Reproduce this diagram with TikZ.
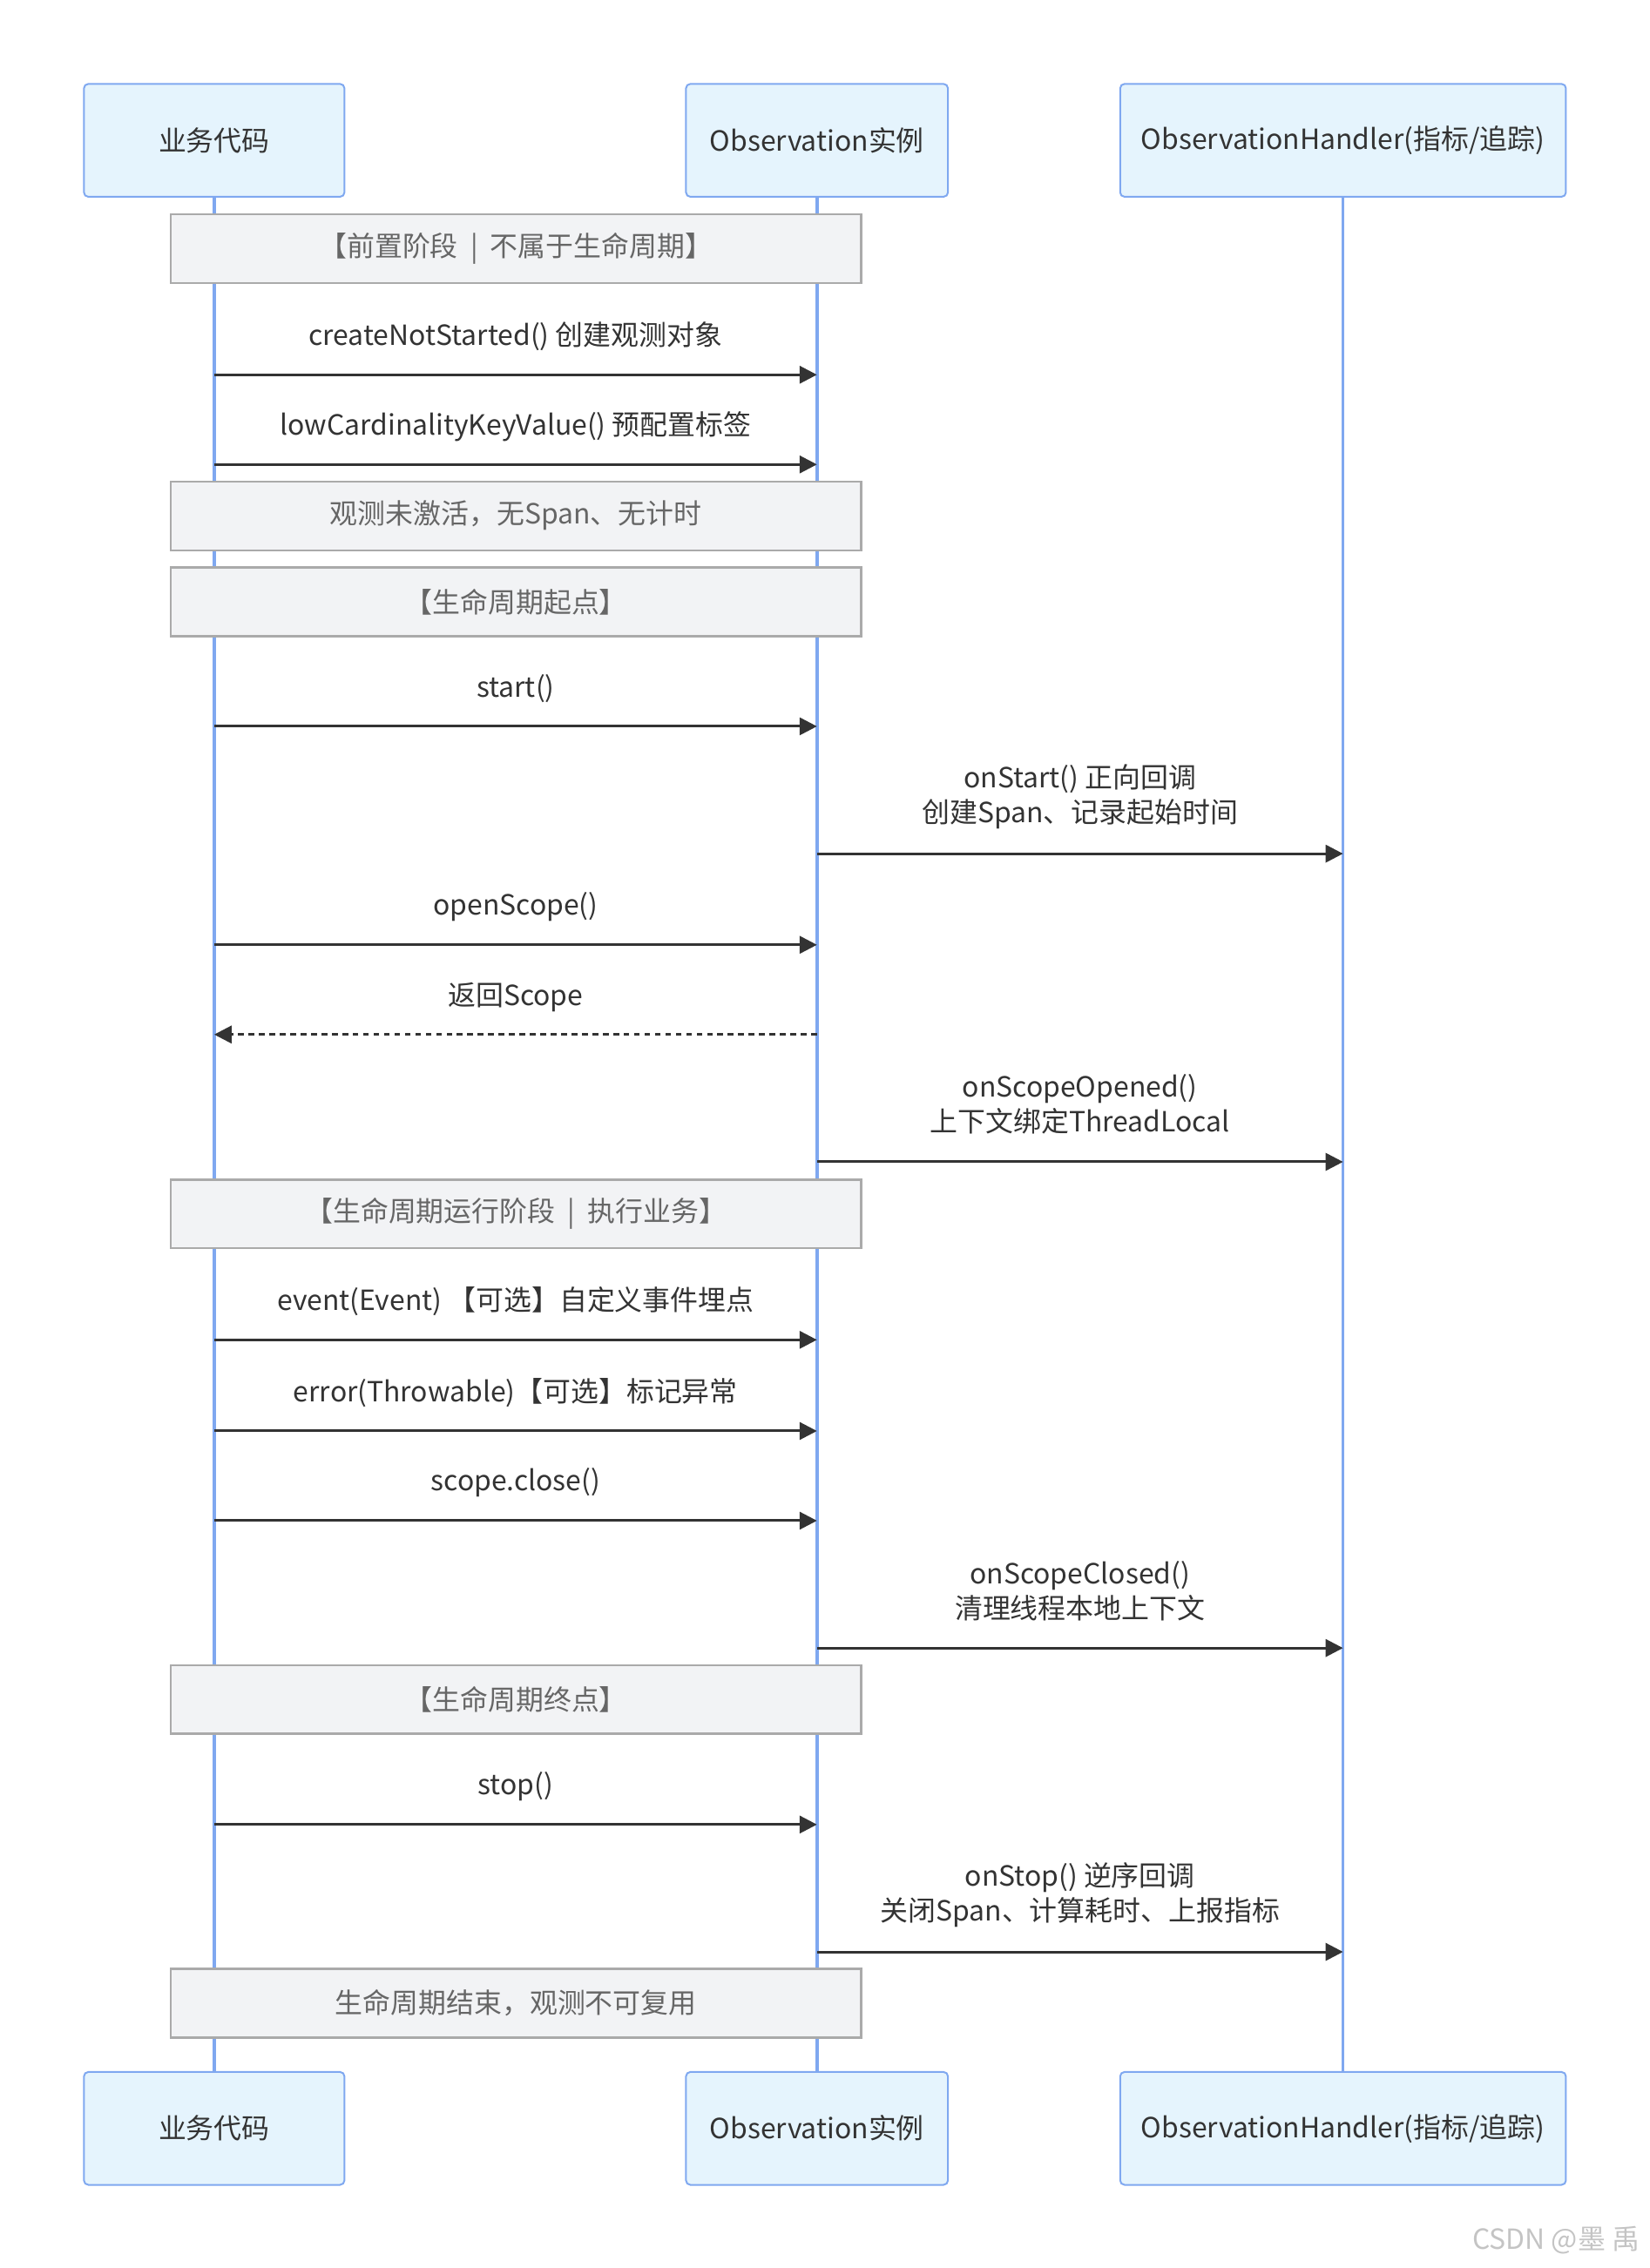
\documentclass[tikz,border=0pt]{standalone}
\usepackage{fontspec}
\setmainfont{Noto Sans CJK SC}
\usetikzlibrary{arrows.meta}
\definecolor{actorfill}{HTML}{E5F4FD}
\definecolor{actorline}{HTML}{7FA8F0}
\definecolor{notefill}{HTML}{F2F3F5}
\definecolor{notedraw}{HTML}{AAAAAA}
\definecolor{notetext}{HTML}{666666}
\definecolor{msgtext}{HTML}{333333}
\definecolor{marktext}{HTML}{C4C4C4}

\begin{document}
\begin{tikzpicture}[
        x=0.5pt, y=-0.5pt,
        every node/.style={font=\fontsize{9.6}{12}\selectfont},
        actor/.style={rectangle, draw=actorline, fill=actorfill, line width=0.6pt, rounded corners=1.5pt, minimum width=90pt, minimum height=39pt, text=msgtext},
        note/.style={rectangle, draw=notedraw, fill=notefill, line width=0.7pt, minimum width=238.5pt, minimum height=23.75pt, text=notetext},
        life/.style={draw=actorline, line width=1.1pt},
        msg/.style={-{Triangle[length=6pt, width=6pt]}, draw=msgtext, line width=0.9pt},
        reply/.style={msg, dash pattern=on 2pt off 1.6pt},
        lbl/.style={midway, yshift=#1, text=msgtext, align=center},
        lbl/.default=13.2pt
    ]
        \useasboundingbox (0,0) rectangle (1140,1567.5);

        % Actors
        \node[actor] (code) at (148,97) {业务代码};
        \node[actor, minimum width=90.5pt] (obs) at (564.5,97) {Observation实例};
        \node[actor, minimum width=154pt] (hnd) at (928,97) {ObservationHandler(指标/追踪)};
        \node[actor] (code2) at (148,1471) {业务代码};
        \node[actor, minimum width=90.5pt] (obs2) at (564.5,1471) {Observation实例};
        \node[actor, minimum width=154pt] (hnd2) at (928,1471) {ObservationHandler(指标/追踪)};

        % Lifelines
        \draw[life] (code) -- (code2);
        \draw[life] (obs) -- (obs2);
        \draw[life] (hnd) -- (hnd2);

        % Notes
        \node[note] (pre) at (356.5,172) {【前置阶段\ \ |\ \ 不属于生命周期】};
        \node[note] (idle) at (356.5,356.5) {观测未激活，无Span、无计时};
        \node[note] (begin) at (356.5,416) {【生命周期起点】};
        \node[note] (run) at (356.5,839) {【生命周期运行阶段\ \ |\ \ 执行业务】};
        \node[note] (finish) at (356.5,1174.5) {【生命周期终点】};
        \node[note] (over) at (356.5,1384.5) {生命周期结束，观测不可复用};

        % Messages
        \draw[msg] (code |- 0,259) -- node[lbl] {createNotStarted() 创建观测对象} (obs |- 0,259);
        \draw[msg] (code |- 0,321) -- node[lbl] {lowCardinalityKeyValue() 预配置标签} (obs |- 0,321);
        \draw[msg] (code |- 0,502) -- node[lbl] {start()} (obs |- 0,502);
        \draw[msg] (obs |- 0,590) -- node[lbl=19.8pt] {onStart() 正向回调\\创建Span、记录起始时间} (hnd |- 0,590);
        \draw[msg] (code |- 0,653) -- node[lbl] {openScope()} (obs |- 0,653);
        \draw[reply] (obs |- 0,715) -- node[lbl=12.8pt] {返回Scope} (code |- 0,715);
        \draw[msg] (obs |- 0,803) -- node[lbl=19.8pt] {onScopeOpened()\\上下文绑定ThreadLocal} (hnd |- 0,803);
        \draw[msg] (code |- 0,926) -- node[lbl] {event(Event) 【可选】自定义事件埋点} (obs |- 0,926);
        \draw[msg] (code |- 0,989) -- node[lbl] {error(Throwable)【可选】标记异常} (obs |- 0,989);
        \draw[msg] (code |- 0,1051) -- node[lbl] {scope.close()} (obs |- 0,1051);
        \draw[msg] (obs |- 0,1139) -- node[lbl=19.8pt] {onScopeClosed()\\清理线程本地上下文} (hnd |- 0,1139);
        \draw[msg] (code |- 0,1261) -- node[lbl] {stop()} (obs |- 0,1261);
        \draw[msg] (obs |- 0,1349) -- node[lbl=19.8pt] {onStop() 逆序回调\\关闭Span、计算耗时、上报指标} (hnd |- 0,1349);

        % Watermark
        \node[anchor=east, text=marktext] (mark) at (1140,1548) {CSDN @墨 禹};
    \end{tikzpicture}
\end{document}
